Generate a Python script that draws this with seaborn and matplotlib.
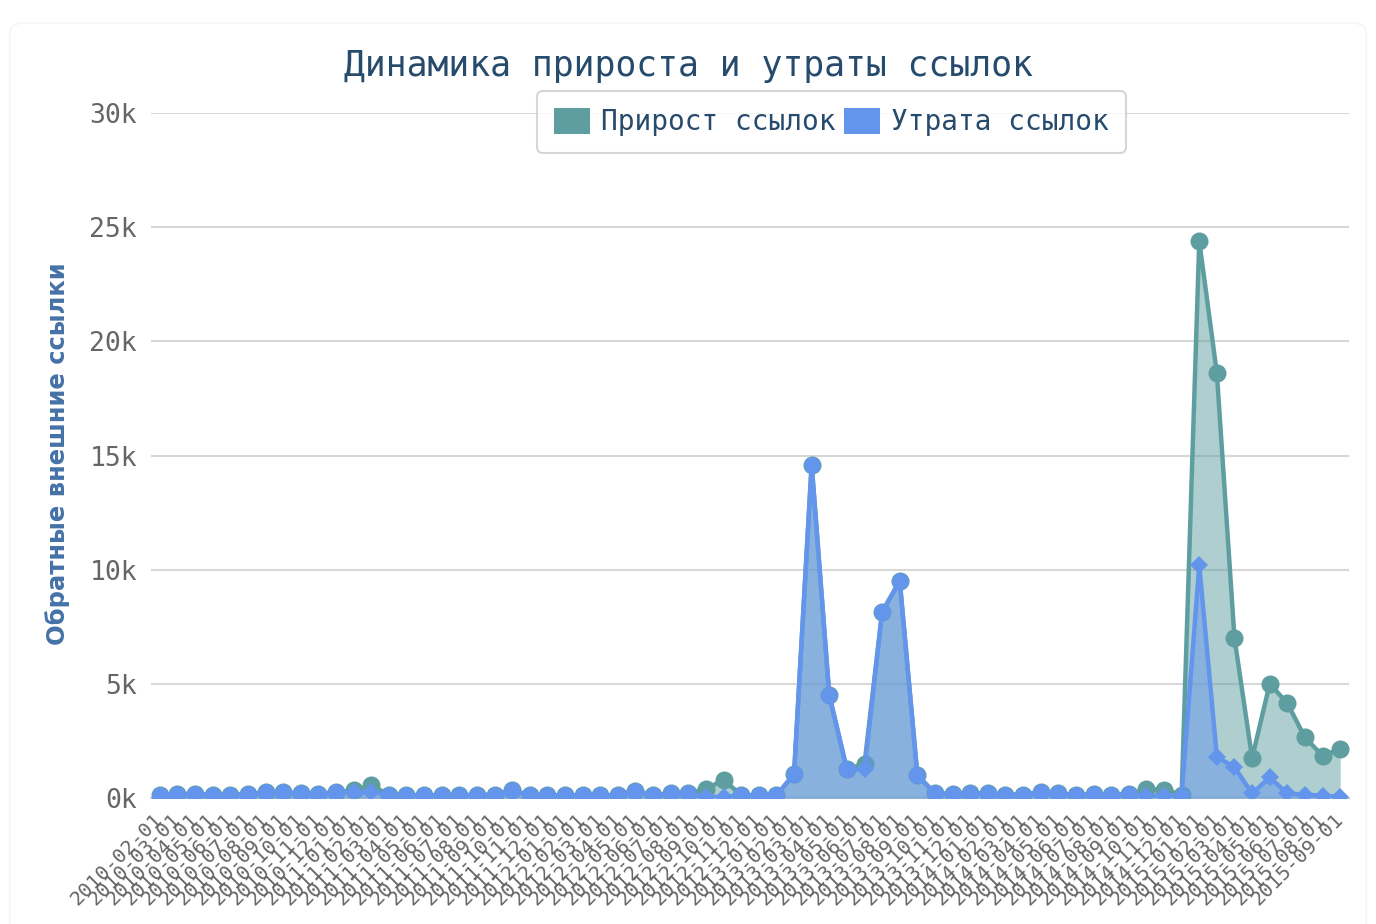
"""
Link gain / loss dynamics chart (monthly backlinks).
"""

import numpy as np
import pandas as pd
import matplotlib.pyplot as plt
import seaborn as sns
from matplotlib.patches import Patch, FancyBboxPatch

# Data
months = pd.date_range('2010-02-01', '2015-09-01', freq='MS').strftime('%Y-%m-%d').tolist()

gain = [150, 180, 170, 150, 140, 170, 250, 250, 200, 180,
        250, 330, 550, 150, 130, 120, 110, 130, 120, 150,
        330, 130, 120, 120, 110, 110, 130, 300, 130, 200,
        200, 400, 800, 120, 110, 110, 1050, 14600, 4500, 1250,
        1500, 8150, 9500, 1000, 200, 180, 200, 200, 150, 150,
        250, 200, 130, 160, 150, 160, 400, 350, 150, 24400,
        18600, 7000, 1750, 5000, 4150, 2650, 1850, 2150]

loss = [150, 180, 170, 150, 140, 170, 250, 250, 200, 180,
        250, 250, 250, 150, 130, 120, 110, 130, 120, 150,
        330, 130, 120, 120, 110, 110, 130, 300, 130, 200,
        200, 50, 50, 120, 110, 110, 1050, 14600, 4500, 1250,
        1250, 8150, 9500, 1000, 200, 180, 200, 200, 150, 150,
        250, 200, 130, 160, 150, 160, 100, 100, 120, 10200,
        1800, 1350, 200, 900, 200, 150, 100, 50]

series_names = ['Прирост ссылок', 'Утрата ссылок']
ytick_vals = [0, 5000, 10000, 15000, 20000, 25000, 30000]
ytick_labels = ['0k', '5k', '10k', '15k', '20k', '25k', '30k']

GREEN = '#5F9EA0'
BLUE = '#6495ED'
MONO = ['DejaVu Sans Mono']

sns.set_theme(style='white')
plt.rcParams['font.family'] = ['DejaVu Sans Mono', 'DejaVu Sans']

fig = plt.figure(figsize=(13.76, 9.24), dpi=100)
ax = fig.add_axes([151 / 1376, 1 - 798 / 924, 1198 / 1376, 685 / 924])

# faint outer container frame
fig.patches.append(FancyBboxPatch((0.007, -0.05), 0.986, 1.025, transform=fig.transFigure,
                                  boxstyle='round,pad=0,rounding_size=0.01',
                                  facecolor='none', edgecolor='#f6f6f6', lw=1.2, zorder=-5))

x = np.arange(len(months))
gain = np.array(gain)
loss = np.array(loss)

# gain series (area + line + circle markers)
ax.fill_between(x, 0, gain, color=GREEN, alpha=0.5, lw=0, zorder=2)
sns.lineplot(x=x, y=gain, ax=ax, color=GREEN, linewidth=3.2, marker='o',
             markersize=13, markeredgewidth=0, zorder=3)

# loss series (area + line + markers)
ax.fill_between(x, 0, loss, color=BLUE, alpha=0.5, lw=0, zorder=4)
sns.lineplot(x=x, y=loss, ax=ax, color=BLUE, linewidth=3.2, zorder=5)
same = loss == gain
ax.plot(x[same], loss[same], 'o', color=BLUE, markersize=12, markeredgewidth=0, zorder=6)
ax.plot(x[~same], loss[~same], 'D', color=BLUE, markersize=9.5, markeredgewidth=0, zorder=6)

# axes
ax.set_xlim(-0.5, len(months) - 0.5)
ax.set_ylim(0, 30000)
ax.set_yticks(ytick_vals)
ax.set_yticklabels(ytick_labels, fontsize=19, color='#666666', family=MONO)
ax.yaxis.grid(True, color='#D8D8D8', lw=1.5)
ax.set_axisbelow(True)
ax.tick_params(axis='y', length=0, pad=10)

ax.set_xticks(x)
ax.set_xticklabels(months, rotation=45, ha='right', va='center', rotation_mode='anchor',
                   fontsize=14.5, color='#666666', family=MONO)
ax.tick_params(axis='x', which='major', length=0, pad=13)
ax.set_xticks(np.arange(len(months) + 1) - 0.5, minor=True)
ax.tick_params(axis='x', which='minor', length=10, width=1.5, color='#C0D0E0', direction='out')

for side in ['left', 'right', 'top']:
    ax.spines[side].set_visible(False)
ax.spines['bottom'].set_color('#C0D0E0')
ax.spines['bottom'].set_linewidth(1.5)
ax.spines['bottom'].set_zorder(1)

ax.set_ylabel('Обратные внешние ссылки', fontsize=17.5, fontweight='bold',
              color='#4572A7', family=['DejaVu Sans'])
ax.yaxis.set_label_coords(-0.068, 0.503)

fig.text(0.5, 1 - 66 / 924, 'Динамика прироста и утраты ссылок', ha='center', va='center',
         fontsize=25, color='#274B6D', family=MONO)

handles = [Patch(facecolor=GREEN, edgecolor='none'), Patch(facecolor=BLUE, edgecolor='none')]
leg = ax.legend(handles, series_names, loc='upper center', bbox_to_anchor=(0.568, 1.032),
                ncol=2, frameon=True, fancybox=True, prop={'family': MONO, 'size': 20},
                handlelength=1.3, handleheight=1.05, handletextpad=0.4, columnspacing=0.3,
                borderpad=0.6, borderaxespad=0, labelcolor='#274B6D')
leg.get_frame().set_edgecolor('#CCCCCC')
leg.get_frame().set_linewidth(1.5)
leg.set_zorder(10)

plt.savefig('out.png', dpi=100)
